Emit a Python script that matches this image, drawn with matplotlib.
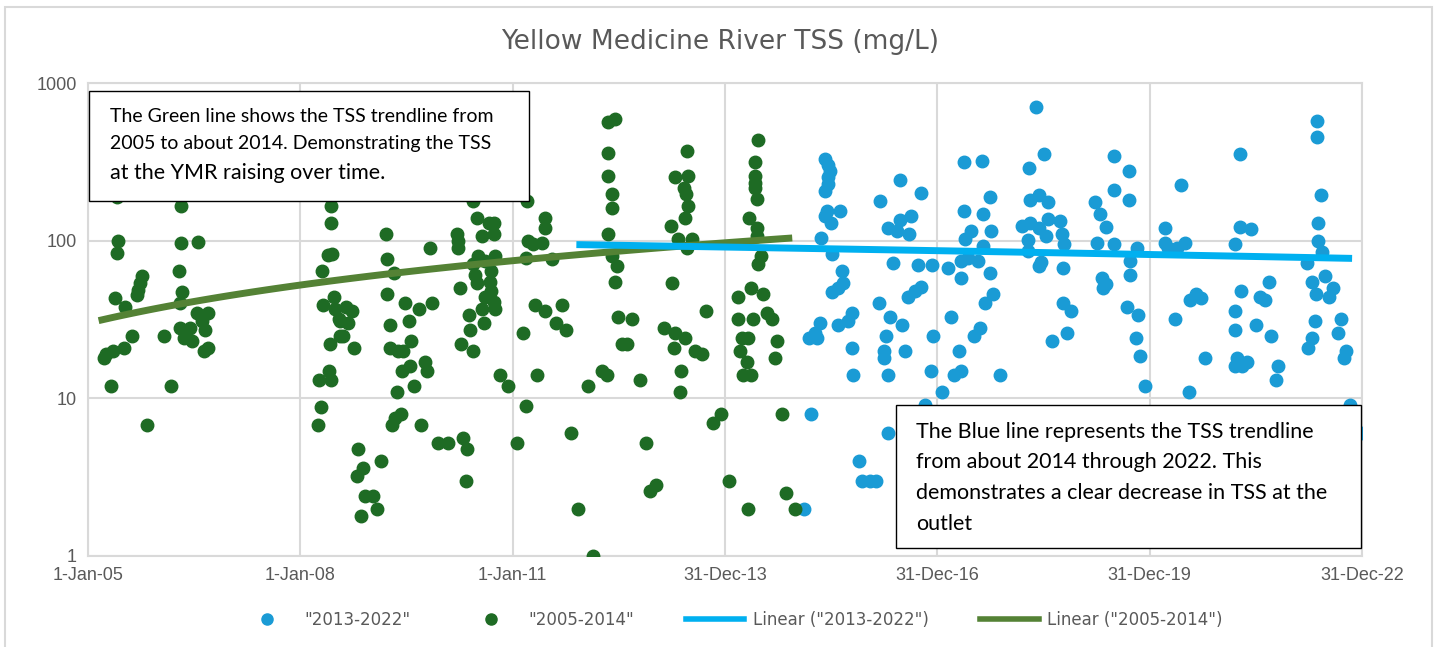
import numpy as np
import matplotlib
matplotlib.use("Agg")
from matplotlib import pyplot as plt
from matplotlib.lines import Line2D
from matplotlib.patches import Rectangle

# values (decimal year, TSS mg/L)
green_year = [
    2005.41, 2006.32, 2005.43, 2005.41, 2006.32, 2006.56, 2006.28, 2005.77, 2005.73, 2005.71,
    2005.69, 2005.38, 2005.52, 2006.33, 2006.30, 2006.54, 2006.69, 2006.30, 2006.44, 2006.61,
    2006.65, 2005.62, 2006.08, 2006.35, 2006.47, 2005.51, 2005.36, 2005.26, 2005.22, 2006.70,
    2006.64, 2005.32, 2006.17, 2005.83,
    2008.44, 2008.43, 2008.39, 2008.45, 2008.31, 2008.32, 2008.47, 2008.49, 2008.54, 2008.56,
    2008.42, 2008.40, 2008.27, 2008.43, 2008.29, 2008.25, 2008.65, 2008.73, 2008.56, 2008.68,
    2008.60, 2008.76, 2008.81, 2008.88, 2008.80, 2008.91, 2009.03, 2009.09, 2008.86, 2009.14,
    2009.21, 2009.23, 2009.33, 2009.23, 2009.27, 2009.27, 2009.36, 2009.30, 2009.34, 2009.42,
    2009.48, 2009.54, 2009.67, 2009.86, 2009.38, 2009.45, 2009.56, 2009.43, 2009.55, 2009.76,
    2009.79, 2009.61, 2009.70, 2009.83, 2009.94, 2010.09, 2010.30, 2010.35, 2010.34, 2010.21,
    2010.23, 2010.23, 2010.26, 2010.27, 2010.39, 2010.40, 2010.44, 2010.44, 2010.49, 2010.66,
    2010.74, 2010.56, 2010.73, 2010.51, 2010.44, 2010.47, 2010.49, 2010.61, 2010.70, 2010.68,
    2010.70, 2010.73, 2010.75, 2010.61, 2010.56, 2010.60, 2010.75, 2010.82, 2010.93,
    2011.20, 2011.46, 2011.45, 2011.21, 2011.29, 2011.41, 2011.56, 2011.19, 2011.31, 2011.45,
    2011.69, 2011.61, 2011.76, 2011.14, 2011.35, 2011.19, 2011.06, 2011.83, 2012.06, 2011.93,
    2012.13, 2012.26,
    2012.35, 2012.45, 2012.35, 2012.35, 2012.40, 2012.40, 2012.35, 2012.40, 2012.48, 2012.45,
    2012.49, 2012.69, 2012.54, 2012.61, 2012.33, 2012.80, 2012.88, 2012.94, 2013.02,
    2013.46, 2013.30, 2013.48, 2013.42, 2013.45, 2013.48, 2013.44, 2013.24, 2013.33, 2013.54,
    2013.46, 2013.25, 2013.73, 2013.14, 2013.29, 2013.43, 2013.28, 2013.58, 2013.67, 2013.38,
    2013.36, 2013.95, 2013.83,
    2014.46, 2014.42, 2014.42, 2014.42, 2014.43, 2014.45, 2014.34, 2014.45, 2014.45, 2014.51,
    2014.47, 2014.37, 2014.54, 2014.19, 2014.19, 2014.40, 2014.60, 2014.66, 2014.24, 2014.33,
    2014.74, 2014.21, 2014.31, 2014.70, 2014.26, 2014.37, 2014.81, 2014.06, 2014.32, 2014.86,
    2014.99,
]
green_tss = [
    188, 165, 99, 84, 97, 98, 64, 60, 54, 49,
    45, 43, 38, 47, 40, 35, 35, 28, 28, 31,
    27, 25, 25, 24, 23, 21, 20, 19, 18, 21,
    20, 12, 12, 6.8,
    165, 129, 81, 82, 64, 39, 44, 37, 32, 25,
    22, 15, 13, 13, 8.8, 6.8, 38, 36, 31, 30,
    25, 21, 4.8, 3.6, 3.2, 2.4, 2.4, 2.0, 1.8, 4.0,
    111, 76, 62, 46, 29, 21, 11, 6.8, 7.5, 8,
    40, 31, 37, 40, 20, 20, 23, 15, 16, 17,
    15, 12, 6.8, 90, 5.2, 5.2, 5.6, 4.8, 3.0, 111,
    100, 90, 50, 22, 34, 27, 20, 178, 140, 130,
    130, 107, 110, 80, 71, 61, 54, 74, 64, 55,
    48, 41, 37, 44, 37, 30, 80, 14, 12,
    178, 140, 121, 100, 95, 97, 76, 78, 39, 36,
    39, 30, 27, 26, 14, 8.9, 5.2, 6.0, 12, 2.0,
    1.0, 15,
    566, 592, 362, 257, 199, 160, 111, 80, 69, 55,
    33, 32, 22, 22, 14, 13, 5.2, 2.6, 2.8,
    371, 253, 257, 216, 197, 166, 139, 124, 103, 103,
    90, 54, 36, 28, 26, 24, 21, 20, 19, 15,
    11, 7.9, 7.0,
    437, 314, 257, 233, 217, 183, 140, 121, 107, 80,
    71, 50, 46, 44, 32, 32, 35, 32, 24, 24,
    23, 20, 17, 18, 14, 14, 7.9, 3.0, 2.0, 2.5,
    2.0,
]

blue_year = [
    2015.41, 2015.46, 2015.48, 2015.46, 2015.45, 2015.41, 2015.44, 2015.62, 2015.41, 2015.50,
    2015.36, 2015.51, 2015.65, 2015.67, 2015.60, 2015.51, 2015.80, 2015.74, 2015.59, 2015.34,
    2015.27, 2015.18, 2015.30, 2015.79, 2015.81, 2015.22, 2015.89, 2015.93, 2016.05, 2016.14,
    2015.12, 2016.31,
    2016.47, 2016.19, 2016.77, 2016.31, 2016.43, 2016.47, 2016.63, 2016.60, 2016.38, 2016.73,
    2016.92, 2016.59, 2016.68, 2016.77, 2016.18, 2016.33, 2016.50, 2016.28, 2016.94, 2016.24,
    2016.25, 2016.54, 2016.31, 2016.91, 2017.06, 2016.82,
    2017.38, 2017.63, 2017.38, 2017.64, 2017.74, 2017.48, 2017.39, 2017.76, 2017.64, 2017.15,
    2017.34, 2017.44, 2017.58, 2017.34, 2017.74, 2017.78, 2017.67, 2017.19, 2017.60, 2017.52,
    2017.31, 2017.34, 2017.24, 2017.88,
    2018.40, 2018.51, 2018.29, 2018.31, 2018.44, 2018.56, 2018.19, 2018.31, 2018.43, 2018.57,
    2018.73, 2018.54, 2018.76, 2018.79, 2018.28, 2018.28, 2018.47, 2018.43, 2018.78, 2018.78,
    2018.89, 2018.83, 2018.62,
    2019.50, 2019.23, 2019.30, 2019.39, 2019.49, 2019.25, 2019.49, 2019.32, 2019.39, 2019.34,
    2019.71, 2019.71, 2019.82, 2019.72, 2019.72, 2019.68, 2019.83, 2019.81, 2019.87, 2019.93,
    2020.21, 2020.21, 2020.26, 2020.38, 2020.50, 2020.44, 2020.36, 2020.57, 2020.66, 2020.72,
    2020.78, 2020.56,
    2021.28, 2021.28, 2021.43, 2021.20, 2021.29, 2021.20, 2021.20, 2021.50, 2021.56, 2021.63,
    2021.68, 2021.71, 2021.23, 2021.20, 2021.37, 2021.30, 2021.82, 2021.79,
    2022.37, 2022.37, 2022.42, 2022.38, 2022.38, 2022.44, 2022.22, 2022.29, 2022.35, 2022.48,
    2022.59, 2022.53, 2022.33, 2022.29, 2022.24, 2022.71, 2022.66, 2022.77, 2022.74, 2022.83,
    2022.99,
]
blue_tss = [
    330, 300, 277, 252, 228, 207, 155, 155, 143, 130,
    104, 82, 64, 54, 50, 47, 35, 31, 29, 30,
    26, 24, 24, 21, 14, 7.9, 4.0, 3.0, 3.0, 3.0,
    2.0, 6.0,
    242, 178, 200, 121, 115, 135, 143, 110, 72, 70,
    70, 44, 48, 51, 40, 33, 29, 25, 25, 20,
    18, 20, 14, 15, 11, 9.1,
    315, 320, 155, 147, 190, 115, 102, 115, 92, 67,
    74, 78, 74, 58, 62, 46, 40, 33, 28, 25,
    20, 15, 14, 14,
    700, 354, 290, 180, 195, 176, 124, 130, 121, 137,
    133, 107, 110, 95, 101, 86, 73, 69, 67, 40,
    36, 26, 23,
    345, 176, 147, 122, 210, 97, 95, 58, 53, 50,
    276, 180, 90, 74, 61, 38, 34, 24, 18.5, 12,
    121, 97, 90, 90, 97, 225, 32, 42, 46, 43,
    18, 11,
    354, 122, 118, 95, 48, 36, 27, 29, 44, 42,
    55, 25, 18, 16, 17, 16, 16, 13,
    570, 455, 195, 129, 100, 85, 72, 55, 46, 60,
    50, 44, 31, 24, 21, 32, 26, 20, 18, 9.1,
    6.0,
]

# linear trendlines: (start year, end year), (start value, end value)
green_trend_years = [2005.15, 2014.95]
green_trend_tss = [31.1, 104]
blue_trend_years = [2011.90, 2022.86]
blue_trend_tss = [94.4, 77.2]

tick_years = [2005, 2008, 2011, 2014, 2017, 2020, 2023]
tick_labels = ["1-Jan-05", "1-Jan-08", "1-Jan-11", "31-Dec-13", "31-Dec-16", "31-Dec-19", "31-Dec-22"]

GREEN = "#1e6b24"
BLUE = "#1a9bd5"
GREEN_LINE = "#548235"
BLUE_LINE = "#00b0f0"
GRID = "#d9d9d9"
TXT = "#595959"

W, H = 1440, 647
fig = plt.figure(figsize=(W / 100, H / 100), dpi=100)
ax = fig.add_axes([88 / W, 1 - 556 / H, (1362 - 88) / W, (556 - 83) / H])

ax.plot(blue_year, blue_tss, "o", color=BLUE, ms=9, mec=BLUE, zorder=3)
ax.plot(green_year, green_tss, "o", color=GREEN, ms=9, mec=GREEN, zorder=4)

# a linear trend is straight in linear space, so it bends on the log axis
def trend(years, vals):
    slope, icpt = np.polyfit(years, vals, 1)
    t = np.linspace(years[0], years[1], 100)
    return t, slope * t + icpt

tg, vg = trend(green_trend_years, green_trend_tss)
tb, vb = trend(blue_trend_years, blue_trend_tss)
ax.plot(tg, vg, color=GREEN_LINE, lw=5, solid_capstyle="butt", zorder=5)
ax.plot(tb, vb, color=BLUE_LINE, lw=5, solid_capstyle="butt", zorder=6)

ax.set_yscale("log")
ax.set_ylim(1, 1000)
ax.set_xlim(2005, 2023)
ax.set_yticks([1, 10, 100, 1000])
ax.set_yticklabels(["1", "10", "100", "1000"])
ax.minorticks_off()
ax.set_xticks(tick_years)
ax.set_xticklabels(tick_labels)
ax.tick_params(length=0, labelsize=13, labelcolor=TXT, pad=8)
for lab in ax.get_xticklabels() + ax.get_yticklabels():
    lab.set_family("Liberation Sans")
ax.grid(True, color=GRID, lw=1.5)
ax.set_axisbelow(True)
for s in ax.spines.values():
    s.set_color(GRID)
    s.set_linewidth(1.5)

fig.text(0.5, 1 - 42 / H, "Yellow Medicine River TSS (mg/L)", ha="center", va="center",
         fontsize=19, color=TXT)

# outer chart frame
fig.add_artist(Rectangle((5 / W, -0.05), (1432 - 5) / W, 1.05 - 7 / H, transform=fig.transFigure,
                         fill=False, ec=GRID, lw=1.5, zorder=0))

# annotation boxes
def note(x0, y0, x1, y1, lines, tx, ys, sizes):
    fig.add_artist(Rectangle((x0 / W, 1 - y1 / H), (x1 - x0) / W, (y1 - y0) / H,
                             transform=fig.transFigure, fc="white", ec="black", lw=1, zorder=10))
    for line, yy, fs in zip(lines, ys, sizes):
        fig.text(tx / W, 1 - yy / H, line, ha="left", va="center", fontsize=fs,
                 family="Lato", color="black", zorder=11)

note(89, 91, 529, 201,
     ["The Green line shows the TSS trendline from",
      "2005 to about 2014. Demonstrating the TSS",
      "at the YMR raising over time."],
     110, [116, 144, 173], [14, 14, 15.5])
note(896, 405, 1361, 548,
     ["The Blue line represents the TSS trendline",
      "from about 2014 through 2022. This",
      "demonstrates a clear decrease in TSS at the",
      "outlet"],
     916, [432, 462, 493, 524], [15.5, 15.5, 15.5, 15.5])

handles = [
    Line2D([], [], ls="none", marker="o", color=BLUE, ms=8),
    Line2D([], [], ls="none", marker="o", color=GREEN, ms=8),
    Line2D([], [], color=BLUE_LINE, lw=4),
    Line2D([], [], color=GREEN_LINE, lw=4),
]
labels = ['"2013-2022"', '"2005-2014"', 'Linear ("2013-2022")', 'Linear ("2005-2014")']
leg = fig.legend(handles, labels, loc="center", bbox_to_anchor=(0.507, 1 - 620 / H), ncol=4,
                 frameon=False, fontsize=12, handlelength=3.5, handletextpad=0.5,
                 columnspacing=3.1)
for t in leg.get_texts():
    t.set_color(TXT)

fig.savefig("out.png", dpi=100)
